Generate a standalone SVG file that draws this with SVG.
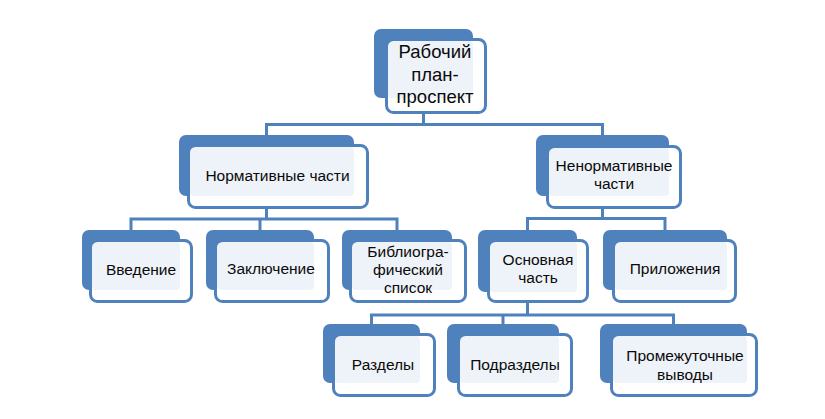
<svg xmlns="http://www.w3.org/2000/svg" width="825" height="419" viewBox="0 0 825 419">
<style>
.back{fill:#4F81BD;}
.front{fill:#FFFFFF;}
.lite{fill:#EEF2F9;}
.edge{fill:none;stroke:#4F81BD;stroke-width:3;}
.conn{fill:none;stroke:#4F81BD;stroke-width:3;stroke-linejoin:miter;}
text{font-family:"Liberation Sans",Arial,sans-serif;font-size:15.5px;fill:#0a0a0a;text-anchor:middle;}
.big{font-size:18.5px;}
</style>
<rect width="825" height="419" fill="#FFFFFF"/>
<g id="connectors">
<path class="conn" d="M423.5,114 V124.5 M266.5,135 V124.5 H602.5 V135"/>
<path class="conn" d="M266.5,209 V219 M131,230 V219 H397 V230 M260,219 V230"/>
<path class="conn" d="M602.5,209 V218.5 M527.5,230 V218.5 H665 V230"/>
<path class="conn" d="M527.5,303 V315 M371.5,324 V315 H673.5 V324 M503,315 V324"/>
</g>
<g id="n-root">
<rect class="back" x="374" y="29" width="99" height="69" rx="7"/>
<rect class="front" x="386.5" y="39.5" width="99" height="73" rx="7"/>
<rect class="lite" x="388" y="41" width="85" height="57" rx="4"/>
<rect class="edge" x="386.5" y="39.5" width="99" height="73" rx="7"/>
<text class="big" x="435" y="58">Рабочий</text>
<text class="big" x="435" y="80.5">план-</text>
<text class="big" x="435" y="103">проспект</text>
</g>
<g id="n-norm">
<rect class="back" x="179" y="135" width="175" height="61" rx="7"/>
<rect class="front" x="188.5" y="145.5" width="179" height="62" rx="7"/>
<rect class="lite" x="190" y="147" width="164" height="49" rx="4"/>
<rect class="edge" x="188.5" y="145.5" width="179" height="62" rx="7"/>
<text x="277.5" y="181">Нормативные части</text>
</g>
<g id="n-nenorm">
<rect class="back" x="536" y="135" width="133" height="61" rx="7"/>
<rect class="front" x="547.5" y="146.5" width="133" height="61" rx="7"/>
<rect class="lite" x="549" y="148" width="120" height="48" rx="4"/>
<rect class="edge" x="547.5" y="146.5" width="133" height="61" rx="7"/>
<text x="614" y="170.5">Ненормативные</text>
<text x="614" y="189">части</text>
</g>
<g id="n-vved">
<rect class="back" x="82" y="230" width="98" height="60" rx="7"/>
<rect class="front" x="90.5" y="240.5" width="101" height="61" rx="7"/>
<rect class="lite" x="92" y="242" width="88" height="48" rx="4"/>
<rect class="edge" x="90.5" y="240.5" width="101" height="61" rx="7"/>
<text x="141" y="275">Введение</text>
</g>
<g id="n-zakl">
<rect class="back" x="206" y="230" width="108" height="60" rx="7"/>
<rect class="front" x="215.5" y="240.5" width="113" height="61" rx="7"/>
<rect class="lite" x="217" y="242" width="97" height="48" rx="4"/>
<rect class="edge" x="215.5" y="240.5" width="113" height="61" rx="7"/>
<text x="271" y="274">Заключение</text>
</g>
<g id="n-bibl">
<rect class="back" x="342" y="230" width="110" height="60" rx="7"/>
<rect class="front" x="350.5" y="240.5" width="115" height="61" rx="7"/>
<rect class="lite" x="352" y="242" width="100" height="48" rx="4"/>
<rect class="edge" x="350.5" y="240.5" width="115" height="61" rx="7"/>
<text x="408" y="257">Библиогра-</text>
<text x="408" y="275">фический</text>
<text x="408" y="293">список</text>
</g>
<g id="n-osn">
<rect class="back" x="478" y="230" width="99" height="62" rx="7"/>
<rect class="front" x="488.5" y="240.5" width="99" height="61" rx="7"/>
<rect class="lite" x="490" y="242" width="87" height="50" rx="4"/>
<rect class="edge" x="488.5" y="240.5" width="99" height="61" rx="7"/>
<text x="538" y="265">Основная</text>
<text x="538" y="283">часть</text>
</g>
<g id="n-pril">
<rect class="back" x="603" y="230" width="124" height="60" rx="7"/>
<rect class="front" x="613.5" y="240.5" width="122" height="61" rx="7"/>
<rect class="lite" x="615" y="242" width="112" height="48" rx="4"/>
<rect class="edge" x="613.5" y="240.5" width="122" height="61" rx="7"/>
<text x="675" y="274">Приложения</text>
</g>
<g id="n-razd">
<rect class="back" x="323" y="324" width="97" height="59" rx="7"/>
<rect class="front" x="333.5" y="334.5" width="101" height="61" rx="7"/>
<rect class="lite" x="335" y="336" width="85" height="47" rx="4"/>
<rect class="edge" x="333.5" y="334.5" width="101" height="61" rx="7"/>
<text x="383" y="370">Разделы</text>
</g>
<g id="n-podr">
<rect class="back" x="447" y="324" width="112" height="59" rx="7"/>
<rect class="front" x="458.5" y="334.5" width="113" height="61" rx="7"/>
<rect class="lite" x="460" y="336" width="99" height="47" rx="4"/>
<rect class="edge" x="458.5" y="334.5" width="113" height="61" rx="7"/>
<text x="515" y="370">Подразделы</text>
</g>
<g id="n-prom">
<rect class="back" x="600" y="324" width="147" height="59" rx="7"/>
<rect class="front" x="611.5" y="334.5" width="145" height="61" rx="7"/>
<rect class="lite" x="613" y="336" width="134" height="47" rx="4"/>
<rect class="edge" x="611.5" y="334.5" width="145" height="61" rx="7"/>
<text x="685" y="360.5">Промежуточные</text>
<text x="685" y="380">выводы</text>
</g>
</svg>
